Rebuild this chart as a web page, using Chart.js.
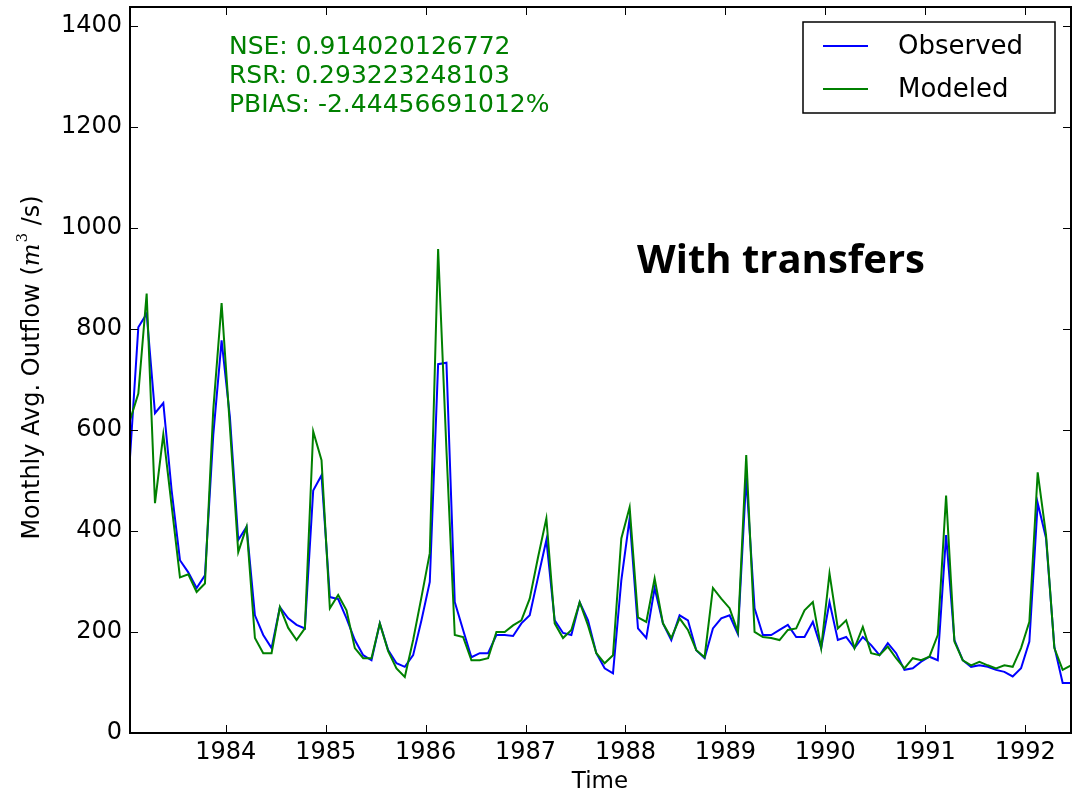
<!DOCTYPE html>
<html>
<head>
<meta charset="utf-8">
<script src="https://cdn.jsdelivr.net/npm/chart.js@4.4.1/dist/chart.umd.min.js"></script>
<style>
    html, body { margin: 0; padding: 0; background: #fff; }
    #wrap { width: 1074px; height: 796px; }
</style>
</head>
<body>
<div id="wrap"><canvas id="flowChart" width="1074" height="796"></canvas></div>
<script>
// Monthly outflow, Jan 1983 .. Jun 1992 (one value per month)
const startYear = 1983;

const observed = [
    546, 803, 830, 633, 653, 480, 342, 318, 287, 312, 590, 777,
    625, 382, 408, 233, 194, 168, 249, 227, 214, 207, 480, 510,
    269, 265, 227, 184, 154, 144, 217, 164, 138, 131, 154, 223,
    299, 730, 733, 259, 204, 150, 158, 158, 194, 194, 192, 217,
    233, 308, 382, 223, 198, 194, 259, 223, 158, 128, 118, 302,
    425, 207, 188, 287, 217, 184, 233, 223, 164, 148, 207, 227,
    233, 196, 506, 247, 194, 194, 204, 214, 190, 190, 220, 168,
    259, 184, 190, 168, 190, 174, 154, 178, 158, 125, 128, 141,
    151, 144, 392, 184, 144, 131, 134, 131, 125, 121, 112, 128,
    181, 455, 386, 171, 99, 99
];

const modeled = [
    619, 672, 870, 455, 591, 450, 308, 314, 279, 296, 640, 851,
    605, 358, 408, 188, 158, 158, 249, 208, 184, 207, 597, 540,
    247, 273, 243, 168, 148, 148, 217, 162, 128, 111, 184, 269,
    356, 958, 560, 194, 190, 144, 144, 148, 200, 200, 213, 223,
    266, 348, 425, 217, 188, 204, 259, 213, 158, 138, 154, 385,
    447, 229, 220, 306, 217, 188, 227, 204, 164, 150, 287, 266,
    247, 200, 550, 200, 190, 188, 184, 204, 207, 243, 259, 168,
    316, 207, 223, 168, 210, 158, 154, 171, 148, 128, 148, 144,
    151, 194, 470, 181, 144, 134, 141, 134, 128, 134, 131, 168,
    220, 516, 392, 168, 125, 134
];

const yearTicks = [1984, 1985, 1986, 1987, 1988, 1989, 1990, 1991, 1992];
const flowTicks = [0, 200, 400, 600, 800, 1000, 1200, 1400];
const seriesNames = ['Observed', 'Modeled'];
const statLines = [
    'NSE: 0.914020126772',
    'RSR: 0.293223248103',
    'PBIAS: -2.44456691012%'
];

const BLUE = '#0000ff';
const GREEN = '#008000';
const FONT = '"DejaVu Sans", sans-serif';

function toPoints(values) {
    // sample i sits in the middle of its month
    return values.map((v, i) => ({ x: startYear + (i + 0.5) / 12, y: v }));
}

const obsPoints = toPoints(observed);
const modPoints = toPoints(modeled);

// frame, inward ticks, legend, annotations and axis titles
const decorations = {
    id: 'decorations',
    afterDraw(chart) {
        const ctx = chart.ctx;
        const area = chart.chartArea;
        const xs = chart.scales.x;
        const ys = chart.scales.y;
        ctx.save();

        // inward ticks on all four sides
        ctx.strokeStyle = '#000';
        ctx.lineWidth = 1;
        ctx.beginPath();
        yearTicks.forEach(t => {
            const px = Math.round(xs.getPixelForValue(t)) + 0.5;
            ctx.moveTo(px, area.bottom); ctx.lineTo(px, area.bottom - 8);
            ctx.moveTo(px, area.top); ctx.lineTo(px, area.top + 8);
        });
        flowTicks.forEach(t => {
            const py = Math.round(ys.getPixelForValue(t)) + 0.5;
            ctx.moveTo(area.left, py); ctx.lineTo(area.left + 8, py);
            ctx.moveTo(area.right, py); ctx.lineTo(area.right - 8, py);
        });
        ctx.stroke();

        // axes frame
        ctx.lineWidth = 2;
        ctx.strokeRect(area.left, area.top, area.right - area.left, area.bottom - area.top);

        // statistics text
        ctx.fillStyle = GREEN;
        ctx.font = '25px ' + FONT;
        ctx.textAlign = 'left';
        ctx.textBaseline = 'middle';
        statLines.forEach((s, i) => ctx.fillText(s, 229, 47 + i * 29));

        // big label
        ctx.fillStyle = '#000';
        ctx.font = 'bold 40px "Open Sans", sans-serif';
        ctx.fillText('With transfers', 637, 262);

        // legend
        ctx.fillStyle = '#fff';
        ctx.fillRect(803, 22, 252, 91);
        ctx.strokeStyle = '#000';
        ctx.lineWidth = 1.5;
        ctx.strokeRect(803, 22, 252, 91);
        const legendColors = [BLUE, GREEN];
        seriesNames.forEach((name, i) => {
            const ly = 46 + i * 43;
            ctx.strokeStyle = legendColors[i];
            ctx.lineWidth = 2;
            ctx.beginPath();
            ctx.moveTo(823, ly); ctx.lineTo(868, ly);
            ctx.stroke();
            ctx.fillStyle = '#000';
            ctx.font = '26px ' + FONT;
            ctx.fillText(name, 898, ly + 1);
        });

        // x axis title
        ctx.fillStyle = '#000';
        ctx.font = '23px ' + FONT;
        ctx.textAlign = 'center';
        ctx.fillText('Time', 600, 782);

        // y axis title with m^3
        ctx.translate(33, 368);
        ctx.rotate(-Math.PI / 2);
        ctx.textAlign = 'left';
        const partA = 'Monthly Avg. Outflow (';
        const partM = 'm';
        const partS = '3';
        const partB = ' /s)';
        ctx.font = '24px ' + FONT;
        const wA = ctx.measureText(partA).width;
        ctx.font = 'italic 24px "DejaVu Serif", serif';
        const wM = ctx.measureText(partM).width;
        ctx.font = '15px "DejaVu Serif", serif';
        const wS = ctx.measureText(partS).width;
        ctx.font = '24px ' + FONT;
        const wB = ctx.measureText(partB).width;
        let cx = -(wA + wM + wS + wB) / 2;
        ctx.font = '24px ' + FONT;
        ctx.fillText(partA, cx, 0); cx += wA;
        ctx.font = 'italic 24px "DejaVu Serif", serif';
        ctx.fillText(partM, cx, 0); cx += wM;
        ctx.font = '15px "DejaVu Serif", serif';
        ctx.fillText(partS, cx + 1, -10); cx += wS + 1;
        ctx.font = '24px ' + FONT;
        ctx.fillText(partB, cx, 0);

        ctx.restore();
    }
};

const chart = new Chart(document.getElementById('flowChart').getContext('2d'), {
    type: 'line',
    data: {
        datasets: [
            {
                label: seriesNames[0],
                data: obsPoints,
                borderColor: BLUE,
                borderWidth: 2,
                pointRadius: 0,
                tension: 0,
                fill: false,
                order: 1
            },
            {
                label: seriesNames[1],
                data: modPoints,
                borderColor: GREEN,
                borderWidth: 2,
                pointRadius: 0,
                tension: 0,
                fill: false,
                order: 0
            }
        ]
    },
    options: {
        responsive: false,
        animation: false,
        layout: { padding: { top: 7, right: 3, left: 0, bottom: 0 } },
        plugins: {
            legend: { display: false },
            tooltip: { enabled: false }
        },
        scales: {
            x: {
                type: 'linear',
                min: obsPoints[0].x,
                max: obsPoints[obsPoints.length - 1].x,
                afterBuildTicks: s => { s.ticks = yearTicks.map(v => ({ value: v })); },
                afterFit: s => { s.height = 63; s.paddingLeft = 0; s.paddingRight = 0; },
                grid: { display: false, drawTicks: false },
                border: { display: false },
                ticks: {
                    color: '#000',
                    font: { family: FONT, size: 24 },
                    padding: 5,
                    maxRotation: 0,
                    autoSkip: false,
                    callback: v => String(v)
                }
            },
            y: {
                min: 0,
                max: 1437,
                afterBuildTicks: s => { s.ticks = flowTicks.map(v => ({ value: v })); },
                afterFit: s => { s.width = 130; s.paddingTop = 0; s.paddingBottom = 0; },
                grid: { display: false, drawTicks: false },
                border: { display: false },
                ticks: {
                    color: '#000',
                    font: { family: FONT, size: 24 },
                    padding: 8,
                    callback: v => String(v)
                }
            }
        }
    },
    plugins: [decorations]
});
</script>
</body>
</html>
